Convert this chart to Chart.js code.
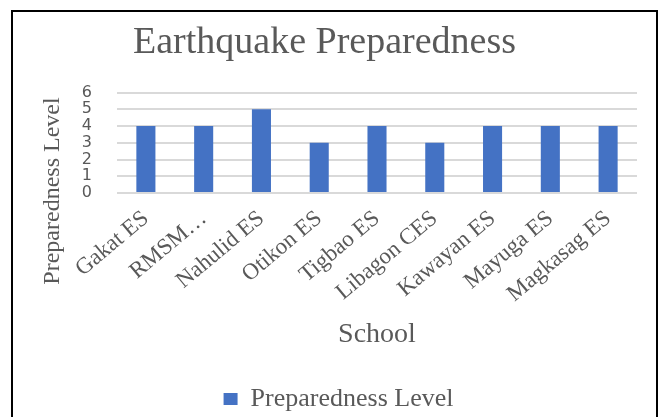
<!DOCTYPE html>
<html>
<head>
<meta charset="utf-8">
<script src="https://cdn.jsdelivr.net/npm/chart.js@4"></script>
<style>
  html, body { margin: 0; padding: 0; background: #fff; }
  canvas { display: block; }
</style>
</head>
<body>
<canvas id="prepChart" width="662" height="417"></canvas>
<script>
const schools = ["Gakat ES", "RMSM…", "Nahulid ES", "Otikon ES", "Tigbao ES", "Libagon CES", "Kawayan ES", "Mayuga ES", "Magkasag ES"];
const preparedness = [4, 4, 5, 3, 4, 3, 4, 4, 4];
const yTicks = [0, 1, 2, 3, 4, 5, 6];

const textGray = "#595959";
const serif = "'Liberation Serif', 'Times New Roman', serif";

// frame around the chart, rotated y axis title, legend nudge
const framePlugin = {
  id: "frame",
  afterLayout(chart) {
    const lg = chart.legend;
    lg.left += 14; lg.right += 14;
    lg.top += 5; lg.bottom += 5;
  },
  beforeDraw(chart) {
    const c = chart.ctx;
    c.save();
    c.fillStyle = "#fff";
    c.fillRect(0, 0, chart.width, chart.height);
    c.strokeStyle = "#000";
    c.lineWidth = 2;
    c.strokeRect(12, 11, 645, 420);
    c.restore();
  },
  afterDraw(chart) {
    const c = chart.ctx;
    const a = chart.chartArea;
    c.save();
    c.translate(a.left - 64, a.bottom - 2);
    c.rotate(-Math.PI / 2);
    c.font = "24px " + serif;
    c.fillStyle = textGray;
    c.textAlign = "center";
    c.textBaseline = "middle";
    c.fillText("Preparedness Level", 0, 0);
    c.restore();
  }
};

const ctx = document.getElementById("prepChart").getContext("2d");
new Chart(ctx, {
  type: "bar",
  data: {
    labels: schools,
    datasets: [
      {
        label: "Preparedness Level",
        data: preparedness,
        backgroundColor: "#4472c4",
        categoryPercentage: 1,
        barPercentage: 0.33,
      },
    ],
  },
  options: {
    responsive: false,
    animation: false,
    layout: { padding: { top: 12, left: 12, right: 25, bottom: 0 } },
    plugins: {
      title: {
        display: true,
        text: "Earthquake Preparedness",
        color: textGray,
        font: { family: serif, size: 38, weight: "normal" },
        padding: { top: 8, bottom: 27 },
      },
      legend: {
        position: "bottom",
        labels: {
          color: textGray,
          font: { family: serif, size: 26 },
          boxWidth: 14,
          boxHeight: 12,
          padding: 4,
        },
      },
      tooltip: { enabled: false },
    },
    scales: {
      x: {
        grid: { display: false },
        border: { display: false },
        ticks: {
          color: textGray,
          font: { family: serif, size: 23 },
          autoSkip: false,
          minRotation: 40,
          maxRotation: 40,
          padding: 4,
        },
        title: {
          display: true,
          text: "School",
          color: textGray,
          font: { family: serif, size: 28 },
          padding: { top: 0, bottom: 26 },
        },
        afterFit: function (scale) {
          scale.height = 184;
        },
      },
      y: {
        min: 0,
        max: yTicks[yTicks.length - 1],
        border: { display: false },
        grid: { color: "#d9d9d9", lineWidth: 2, drawTicks: false },
        ticks: {
          stepSize: 1,
          autoSkip: false,
          color: textGray,
          padding: 25,
          font: { family: "'DejaVu Sans', sans-serif", size: 16, lineHeight: 1 },
        },
        afterFit: function (scale) {
          scale.width = 105;
        },
      },
    },
  },
  plugins: [framePlugin],
});
</script>
</body>
</html>
